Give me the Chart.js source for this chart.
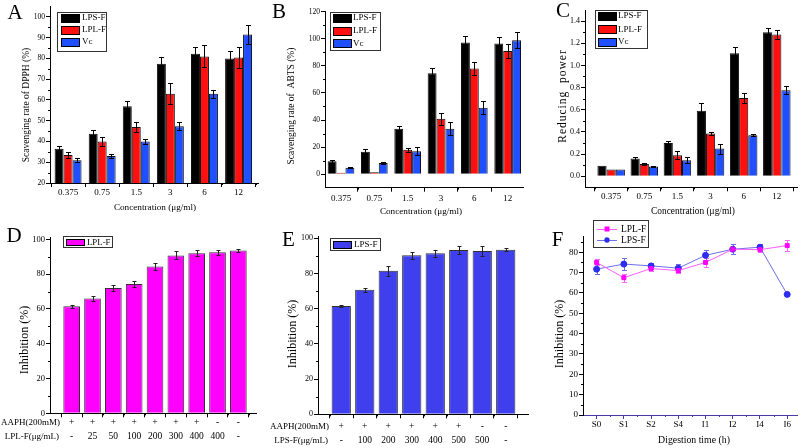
<!DOCTYPE html>
<html><head><meta charset="utf-8"><title>Antioxidant activity</title>
<script src="https://cdn.jsdelivr.net/npm/chart.js@4.4.1/dist/chart.umd.min.js"></script>
<style>
html,body{margin:0;padding:0;background:#fff;}
#fig{position:relative;width:803px;height:448px;background:#fff;overflow:hidden;}
#fig canvas{position:absolute;display:block;}
</style></head><body>
<div id="fig">
<canvas id="cA" width="265" height="220" style="left:0px;top:0px"></canvas>
<canvas id="cB" width="265" height="220" style="left:265px;top:0px"></canvas>
<canvas id="cC" width="273" height="220" style="left:530px;top:0px"></canvas>
<canvas id="cD" width="265" height="228" style="left:0px;top:220px"></canvas>
<canvas id="cE" width="265" height="228" style="left:265px;top:220px"></canvas>
<canvas id="cF" width="273" height="228" style="left:530px;top:220px"></canvas>
</div>
<script>
// ---------------- DATA ----------------
const concLabels = ['0.375', '0.75', '1.5', '3', '6', '12'];
const dpphTicks = [20, 30, 40, 50, 60, 70, 80, 90, 100];
const abtsTicks = [0, 20, 40, 60, 80, 100, 120];
const reduceTicks = [0, 0.2, 0.4, 0.6, 0.8, 1.0, 1.2, 1.4];
const inhTicks = [0, 20, 40, 60, 80, 100];
const digestTicks = [0, 10, 20, 30, 40, 50, 60, 70, 80];

const dpphLPS = [36.5, 43.7, 57, 77.5, 82.3, 80];
const dpphLPSErr = [1.2, 1.8, 2.3, 3.3, 3.2, 3.5];
const dpphLPL = [33.5, 40, 47, 63, 81, 80.5];
const dpphLPLErr = [1.5, 2.2, 2.3, 5, 5.3, 5];
const dpphVc = [31, 33, 40, 47.3, 63, 91.5];
const dpphVcErr = [1, 1, 1.2, 2, 2, 4.5];

const abtsLPS = [9.5, 16.5, 33.5, 74.5, 97.3, 96.5];
const abtsLPSErr = [1.2, 2.3, 2, 4, 4.5, 5];
const abtsLPL = [1, 1.5, 18, 41, 78, 91];
const abtsLPLErr = [0, 0, 1.5, 4.5, 4.5, 5.5];
const abtsVc = [4.7, 8.3, 17, 33.5, 49, 99];
const abtsVcErr = [0.3, 0.8, 2.8, 4.8, 4.8, 5.8];

const redLPS = [0.095, 0.16, 0.30, 0.59, 1.11, 1.30];
const redLPSErr = [0, 0.01, 0.015, 0.075, 0.06, 0.04];
const redLPL = [0.06, 0.11, 0.19, 0.385, 0.705, 1.28];
const redLPLErr = [0, 0.01, 0.035, 0.01, 0.045, 0.04];
const redVc = [0.06, 0.088, 0.145, 0.25, 0.37, 0.775];
const redVcErr = [0, 0.004, 0.03, 0.045, 0.01, 0.035];

const aaphD = ['+', '+', '+', '+', '+', '+', '+', '-', '-'];
const lplConc = ['-', '25', '50', '100', '200', '300', '400', '400', '-'];
const inhD = [61.5, 66, 72, 74.3, 84.3, 90.7, 92, 92.5, 93.5];
const inhDErr = [0.8, 1.2, 1.5, 2, 2.2, 2.3, 1.7, 1.5, 1];

const aaphE = ['+', '+', '+', '+', '+', '+', '-', '-'];
const lpsConc = ['-', '100', '200', '300', '400', '500', '500', '-'];
const inhE = [61.5, 70.7, 81.5, 90.3, 91.5, 93.3, 92.8, 93.5];
const inhEErr = [0.8, 1, 3, 2, 2, 2.2, 3, 1];

const digestTimes = ['S0', 'S1', 'S2', 'S4', 'I1', 'I2', 'I4', 'I6'];
const fLPL = [75, 67.5, 72, 71, 75, 81.5, 81.3, 83.3];
const fLPLErr = [1.5, 2, 1, 1, 2.3, 2.5, 1, 2.5];
const fLPS = [71.7, 74.2, 73.3, 72.2, 78.5, 81.5, 82.5, 59.3];
const fLPSErr = [2.5, 3, 1.5, 2, 2.5, 2.5, 1.5, 1];

// ---------------- HELPERS ----------------
const SERIF = "'Liberation Serif','Times New Roman',serif";
const C_BLACK = '#000000', C_RED = '#ff1010', C_BLUE = '#1f4fff';
const C_MAG = '#ff00ff', C_EBLUE = '#3f3fee';

function xy(vals) { return vals.map((v, i) => ({ x: i, y: v })); }

function drawText(ctx, t) {
  ctx.save();
  ctx.font = (t.style || '') + ' ' + t.size + 'px ' + SERIF;
  ctx.fillStyle = '#000';
  ctx.textAlign = t.align || 'center';
  ctx.textBaseline = 'middle';
  if (t.ls) ctx.letterSpacing = t.ls + 'px';
  ctx.translate(t.x, t.y);
  if (t.rot) ctx.rotate(t.rot * Math.PI / 180);
  ctx.fillText(t.t, 0, 0);
  ctx.restore();
}

function drawErr(chart, o) {
  const ctx = chart.ctx, ys = chart.scales.y;
  chart.data.datasets.forEach((ds, di) => {
    if (!ds.errorBars) return;
    const meta = chart.getDatasetMeta(di);
    ctx.save();
    ctx.strokeStyle = ds.errColor || '#000';
    ctx.lineWidth = 1;
    meta.data.forEach((el, i) => {
      const e = ds.errorBars[i];
      if (!e) return;
      const v = ds.data[i].y;
      const x = Math.round(el.x) + 0.5;
      const y1 = Math.round(ys.getPixelForValue(v + e)) + 0.5;
      const y2 = Math.round(ys.getPixelForValue(v - e)) + 0.5;
      const w = o.cap || 2.5;
      ctx.beginPath();
      ctx.moveTo(x, y1); ctx.lineTo(x, y2);
      ctx.moveTo(x - w, y1); ctx.lineTo(x + w, y1);
      ctx.moveTo(x - w, y2); ctx.lineTo(x + w, y2);
      ctx.stroke();
    });
    ctx.restore();
  });
}

const deco = {
  id: 'deco',
  beforeDatasetsDraw(chart, a, o) { if (o.errUnder) drawErr(chart, o); },
  afterDatasetsDraw(chart, a, o) { if (!o.errUnder) drawErr(chart, o); },
  afterDraw(chart, a, o) {
    const ctx = chart.ctx, ca = chart.chartArea;
    const ys = chart.scales.y, xs = chart.scales.x;
    ctx.save();
    ctx.strokeStyle = '#000';
    ctx.lineWidth = 1;
    if (o.minorY) {
      const majors = ys.ticks.map(t => t.value);
      const st = o.minorY;
      ctx.beginPath();
      for (let k = Math.ceil(ys.min / st); k * st < ys.max - 1e-9; k++) {
        const v = k * st;
        if (v <= ys.min + 1e-9) continue;
        if (majors.some(m => Math.abs(m - v) < 1e-9)) continue;
        const y = Math.round(ys.getPixelForValue(v)) + 0.5;
        ctx.moveTo(ca.left - 2, y); ctx.lineTo(ca.left, y);
      }
      ctx.stroke();
    }
    if (o.minorX) {
      ctx.strokeStyle = o.xAxisColor || '#000';
      ctx.beginPath();
      for (let k = Math.floor(xs.min) - 1; k <= xs.max; k++) {
        const v = k + 0.5;
        if (v <= xs.min || v >= xs.max) continue;
        const x = Math.round(xs.getPixelForValue(v)) + 0.5;
        ctx.moveTo(x, ca.bottom); ctx.lineTo(x, ca.bottom + 2);
      }
      ctx.stroke();
    }
    ctx.restore();
    if (o.legend) {
      const L = o.legend;
      ctx.save();
      ctx.lineWidth = 1;
      ctx.strokeStyle = '#333';
      ctx.strokeRect(L.x + 0.5, L.y + 0.5, L.w, L.h);
      chart.data.datasets.forEach((ds, i) => {
        const ry = L.rows[i];
        if (L.kind === 'line') {
          ctx.strokeStyle = ds.borderColor;
          ctx.beginPath();
          ctx.moveTo(L.sx, Math.round(ry) + 0.5); ctx.lineTo(L.sx + L.sw, Math.round(ry) + 0.5);
          ctx.stroke();
          const mx = L.sx + L.sw / 2;
          ctx.fillStyle = ds.pointBackgroundColor;
          if (ds.pointStyle === 'rect') {
            ctx.fillRect(mx - 2.5, ry - 2.5, 5, 5);
          } else {
            ctx.beginPath(); ctx.arc(mx, ry, 2.7, 0, Math.PI * 2); ctx.fill();
          }
        } else {
          const top = Math.round(ry - L.sh / 2);
          ctx.fillStyle = ds.backgroundColor;
          ctx.fillRect(L.sx, top, L.sw, L.sh);
          ctx.strokeStyle = '#000';
          ctx.strokeRect(L.sx + 0.5, top + 0.5, L.sw, L.sh);
        }
        drawText(ctx, { t: ds.label, x: L.tx, y: ry + 0.5, size: L.size, align: 'left' });
      });
      ctx.restore();
    }
    (o.texts || []).forEach(t => drawText(ctx, t));
  }
};

function makeChart(id, type, datasets, p) {
  return new Chart(document.getElementById(id), {
    type: type,
    data: { datasets: datasets },
    options: {
      responsive: false,
      animation: false,
      devicePixelRatio: 1,
      layout: { padding: { left: 0, top: p.top, right: p.padR, bottom: 0 } },
      datasets: { bar: { barPercentage: 1, categoryPercentage: p.cat || 0.8, borderWidth: 1, borderColor: '#111' } },
      plugins: { legend: { display: false }, tooltip: { enabled: false }, deco: p.deco },
      scales: {
        x: {
          type: 'linear', min: p.xmin, max: p.xmax, offset: false,
          afterBuildTicks: s => { s.ticks = p.xLabels.map((_, i) => ({ value: i })); },
          afterFit: s => { s.height = p.xH; },
          ticks: {
            autoSkip: false, maxRotation: 0, minRotation: 0, padding: p.xPad, color: '#000',
            font: { family: SERIF, size: p.xFont, lineHeight: p.xLH || 1.2 },
            callback: (v) => p.xLabels[Math.round(v)]
          },
          grid: { drawOnChartArea: false, drawTicks: true, tickLength: 4, color: p.xAxisColor || '#000', lineWidth: 1 },
          border: { display: true, color: p.xAxisColor || '#000', width: 1 }
        },
        y: {
          type: 'linear', min: p.ymin, max: p.ymax,
          afterBuildTicks: s => { s.ticks = p.yTicks.map(v => ({ value: v })); },
          afterFit: s => { s.width = p.left; },
          ticks: {
            padding: 1, color: '#000',
            font: { family: SERIF, size: p.yFont },
            callback: (v) => p.yDec ? Number(v).toFixed(p.yDec) : String(v)
          },
          grid: { drawOnChartArea: false, drawTicks: true, tickLength: 4, color: '#000', lineWidth: 1 },
          border: { display: true, color: '#000', width: 1 }
        }
      }
    },
    plugins: [deco]
  });
}

function barSet(label, vals, errs, color) {
  return { label: label, data: xy(vals), backgroundColor: color, errorBars: errs, errColor: '#000' };
}

// ---------------- PANEL A ----------------
makeChart('cA', 'bar', [
  barSet('LPS-F', dpphLPS, dpphLPSErr, C_BLACK),
  barSet('LPL-F', dpphLPL, dpphLPLErr, C_RED),
  barSet('Vc', dpphVc, dpphVcErr, C_BLUE)
], {
  top: 6.6, padR: 7, left: 50, xH: 37, xmin: -0.53, xmax: 5.57, ymin: 20, ymax: 105,
  yTicks: dpphTicks, xLabels: concLabels, xFont: 9, xPad: 0, yFont: 7.5, cat: 0.79,
  deco: {
    minorY: 5, minorX: true, cap: 2.5,
    legend: { x: 57, y: 12, w: 49, h: 39, rows: [17.5, 29.5, 41.5], sx: 61, sw: 18, sh: 8, tx: 82, size: 9 },
    texts: [
      { t: 'A', x: 15, y: 13, size: 21 },
      { t: 'Scavenging rate of DPPH (%)', x: 26.5, y: 105, size: 9.5, rot: -90 },
      { t: 'Concentration (\u03bcg/ml)', x: 155, y: 208, size: 9.2 }
    ]
  }
});

// ---------------- PANEL B ----------------
makeChart('cB', 'bar', [
  barSet('LPS-F', abtsLPS, abtsLPSErr, C_BLACK),
  barSet('LPL-F', abtsLPL, abtsLPLErr, C_RED),
  barSet('Vc', abtsVc, abtsVcErr, C_BLUE)
], {
  top: 11.7, padR: 7, left: 60, xH: 32.3, xmin: -0.48, xmax: 5.46, ymin: -10, ymax: 120,
  yTicks: abtsTicks, xLabels: concLabels, xFont: 9, xPad: 2, yFont: 7.5, cat: 0.8,
  deco: {
    minorY: 10, minorX: true, cap: 2.5,
    legend: { x: 65, y: 12, w: 50, h: 38, rows: [17.5, 30.5, 43], sx: 68, sw: 18, sh: 8, tx: 88, size: 9 },
    texts: [
      { t: 'B', x: 14, y: 12.5, size: 21 },
      { t: 'Scavenging rate of  ABTS (%)', x: 26.5, y: 106, size: 9.5, rot: -90 },
      { t: 'Concentration (\u03bcg/ml)', x: 156, y: 211.5, size: 9.2 }
    ]
  }
});

// ---------------- PANEL C ----------------
makeChart('cC', 'bar', [
  barSet('LPS-F', redLPS, redLPSErr, C_BLACK),
  barSet('LPL-F', redLPL, redLPLErr, C_RED),
  barSet('Vc', redVc, redVcErr, C_BLUE)
], {
  top: 10, padR: 6, left: 55, xH: 32.7, xmin: -0.79, xmax: 5.61, ymin: -0.1, ymax: 1.5,
  yTicks: reduceTicks, yDec: 1, xLabels: concLabels, xFont: 9, xPad: 0, yFont: 8, cat: 0.83,
  deco: {
    minorY: 0.1, minorX: true, cap: 2.5,
    legend: { x: 65, y: 10, w: 52, h: 38, rows: [15.5, 29, 41.5], sx: 68, sw: 18, sh: 8, tx: 88, size: 9 },
    texts: [
      { t: 'C', x: 33, y: 11.5, size: 21 },
      { t: 'Reducing  power', x: 33, y: 96, size: 11.5, rot: -90, ls: 1 },
      { t: 'Concentration (\u03bcg/ml)', x: 163, y: 211.5, size: 9.4 }
    ]
  }
});

// ---------------- PANEL D ----------------
makeChart('cD', 'bar', [
  { label: 'LPL-F', data: xy(inhD), backgroundColor: C_MAG, borderColor: '#333', errorBars: inhDErr, errColor: '#222' }
], {
  top: 17.56, padR: 8.3, left: 50, xH: 34.7, xmin: -1.04, xmax: 8.88, ymin: 0, ymax: 101,
  yTicks: inhTicks, xLabels: aaphD.map((a, i) => [a, lplConc[i]]), xFont: 9.5, xLH: '14px', xPad: -1.6, yFont: 8.5, cat: 0.8,
  deco: {
    minorY: 10, minorX: true, cap: 2,
    legend: { x: 63, y: 16, w: 49, h: 11, rows: [21.8], sx: 66, sw: 18, sh: 6, tx: 87, size: 8.8 },
    texts: [
      { t: 'D', x: 14, y: 16, size: 21 },
      { t: 'Inhibition (%)', x: 25, y: 120, size: 12, rot: -90 },
      { t: 'AAPH(200mM)', x: 60, y: 202.7, size: 9, align: 'right' },
      { t: 'LPL-F(\u03bcg/mL)', x: 59, y: 216.7, size: 9, align: 'right' }
    ]
  }
});

// ---------------- PANEL E ----------------
makeChart('cE', 'bar', [
  { label: 'LPS-F', data: xy(inhE), backgroundColor: C_EBLUE, borderColor: '#333', errorBars: inhEErr, errColor: '#222' }
], {
  top: 16.54, padR: 1.7, left: 53, xH: 33.7, xmin: -0.99, xmax: 7.96, ymin: 0, ymax: 101,
  yTicks: inhTicks, xLabels: aaphE.map((a, i) => [a, lpsConc[i]]), xFont: 9.5, xLH: '13.5px', xPad: 1.65, yFont: 8, cat: 0.82,
  deco: {
    minorY: 10, minorX: true, cap: 2,
    legend: { x: 65, y: 18, w: 50, h: 12, rows: [24.2], sx: 68, sw: 18, sh: 7, tx: 89, size: 9 },
    texts: [
      { t: 'E', x: 23.5, y: 20.5, size: 21 },
      { t: 'Inhibition (%)', x: 27.5, y: 114, size: 12, rot: -90 },
      { t: 'AAPH(200mM)', x: 64, y: 206.7, size: 9, align: 'right' },
      { t: 'LPS-F(\u03bcg/mL)', x: 63, y: 220.2, size: 9, align: 'right' }
    ]
  }
});

// ---------------- PANEL F ----------------
makeChart('cF', 'line', [
  { label: 'LPL-F', data: xy(fLPL), borderColor: '#ff5cff', backgroundColor: '#ff00ff', pointBackgroundColor: '#ff00ff',
    pointBorderColor: '#ff00ff', pointStyle: 'rect', pointRadius: 2.8, borderWidth: 1, tension: 0,
    errorBars: fLPLErr, errColor: '#ff66ff' },
  { label: 'LPS-F', data: xy(fLPS), borderColor: '#6e6ee6', backgroundColor: '#2d2df0', pointBackgroundColor: '#2d2df0',
    pointBorderColor: '#2d2df0', pointStyle: 'circle', pointRadius: 3, borderWidth: 1, tension: 0,
    errorBars: fLPSErr, errColor: '#6e6ee6' }
], {
  top: 16, padR: 6, left: 53, xH: 33, xmin: -0.5, xmax: 7.36, ymin: 0, ymax: 88,
  yTicks: digestTicks, xLabels: digestTimes, xFont: 9, xPad: 0, yFont: 9, xAxisColor: '#4a3aa8',
  deco: {
    minorY: 5, minorX: true, cap: 2.5, errUnder: true, xAxisColor: '#4a3aa8',
    legend: { kind: 'line', x: 63, y: 0, w: 55, h: 27, rows: [9, 20], sx: 67, sw: 20, tx: 91, size: 9.5 },
    texts: [
      { t: 'F', x: 27.5, y: 20, size: 21 },
      { t: 'Inhibition (%)', x: 30, y: 114, size: 12, rot: -90 },
      { t: 'Digestion time (h)', x: 164, y: 220, size: 9.8 }
    ]
  }
});
</script>
</body></html>
